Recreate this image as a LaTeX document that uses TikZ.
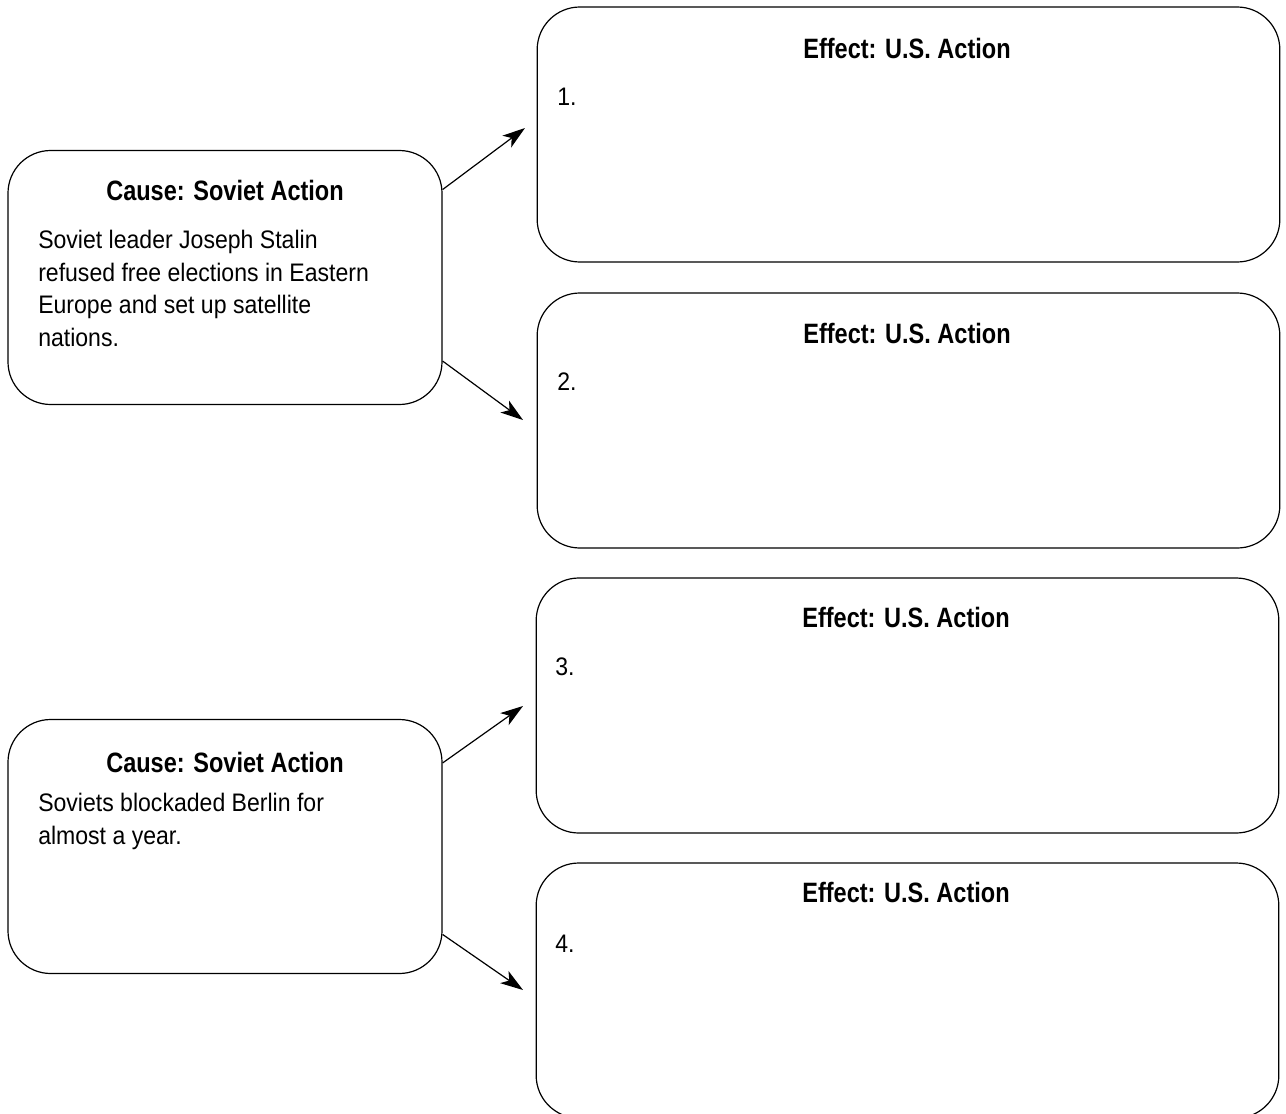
\documentclass[tikz,border=0pt]{standalone}
\usepackage{fontspec}
\setmainfont{Liberation Sans}
\newfontfamily\bodyfont{Liberation Sans}[FakeStretch=0.91]
\newfontfamily\titlefont{Liberation Sans}[FakeStretch=0.84]
\usetikzlibrary{arrows.meta}

\begin{document}
\begin{tikzpicture}[x=0.75pt, y=-0.75pt,
    box/.style={draw, line width=0.9pt, rounded corners=32pt, inner sep=0pt},
    causebox/.style={box, minimum width=325.5pt, minimum height=190.5pt},
    effectbox/.style={box, minimum width=557pt, minimum height=191.25pt},
    title/.style={font=\titlefont\fontsize{21pt}{25pt}\selectfont\bfseries},
    body/.style={font=\bodyfont\fontsize{19pt}{24.5pt}\selectfont, anchor=north west, inner sep=0pt, align=left},
    link/.style={-{Stealth[length=17pt, width=11pt, inset=4.5pt]}, line width=0.9pt}]
  \useasboundingbox (0,0) rectangle (1286,1114);

  % causes
  \node[causebox] (cause1) at (225,277.5) {};
  \node[title] (ctitle1) at (225,190) {Cause: Soviet Action};
  \node[body] (ctext1) at (38,230) {Soviet leader Joseph Stalin\\refused free elections in Eastern\\Europe and set up satellite\\nations.};

  \node[causebox] (cause2) at (225,846.5) {};
  \node[title] (ctitle2) at (225,762) {Cause: Soviet Action};
  \node[body] (ctext2) at (38,793) {Soviets blockaded Berlin for\\almost a year.};

  % effects
  \node[effectbox] (effect1) at (908.5,134.5) {};
  \node[title] (etitle1) at (907,48) {Effect: U.S. Action};
  \node[body] (num1) at (557,88) {1.};

  \node[effectbox] (effect2) at (908.5,420.5) {};
  \node[title] (etitle2) at (907,333) {Effect: U.S. Action};
  \node[body] (num2) at (557,373) {2.};

  \node[effectbox] (effect3) at (907.5,705.5) {};
  \node[title] (etitle3) at (906,617) {Effect: U.S. Action};
  \node[body] (num3) at (555,658) {3.};

  \node[effectbox] (effect4) at (907.5,990.5) {};
  \node[title] (etitle4) at (906,892) {Effect: U.S. Action};
  \node[body] (num4) at (555,935) {4.};

  % arrows
  \coordinate (tip1) at (525,128);
  \coordinate (tip2) at (523,420);
  \coordinate (tip3) at (523,706);
  \coordinate (tip4) at (523,990);
  \draw[link] (cause1.22) -- (tip1);
  \draw[link] (cause1.-21) -- (tip2);
  \draw[link] (cause2.21) -- (tip3);
  \draw[link] (cause2.-22) -- (tip4);
\end{tikzpicture}
\end{document}
